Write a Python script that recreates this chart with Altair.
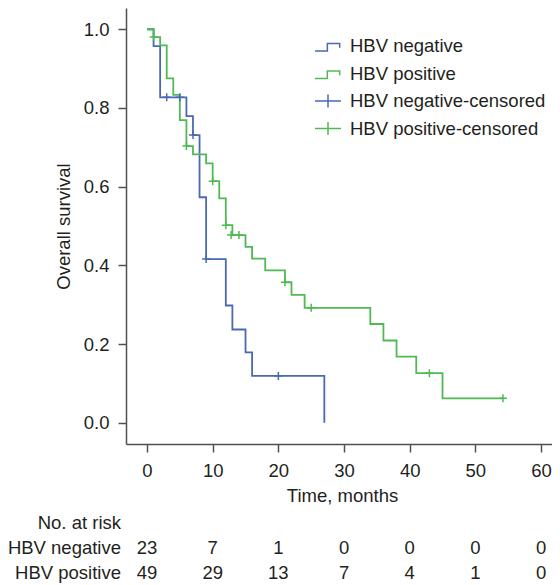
import altair as alt
import pandas as pd

FONT = "Liberation Sans"
TEXT = "#231f20"
AXIS = "#505050"
BLUE = "#4b68b2"
GREEN = "#4fba53"

# ---- Kaplan-Meier steps ----
neg_time = [0, 1, 2, 6, 7, 8, 9, 12, 13, 15, 16, 27]
neg_surv = [1.0, 0.957, 0.827, 0.779, 0.731, 0.573, 0.416, 0.298, 0.237, 0.179, 0.119, 0.0]
neg_cens_time = [3, 5, 7, 9, 20]
neg_cens_surv = [0.827, 0.827, 0.731, 0.416, 0.119]

pos_time = [0, 1, 2, 3, 4, 5, 6, 7, 9, 10, 11, 12, 13, 15, 16, 18, 21, 22, 24, 34, 36, 38, 41, 45, 54.2]
pos_surv = [1.0, 0.980, 0.959, 0.875, 0.833, 0.769, 0.703, 0.682, 0.659, 0.614, 0.570, 0.502,
            0.477, 0.447, 0.417, 0.387, 0.357, 0.325, 0.292, 0.251, 0.209, 0.168, 0.126, 0.062, 0.062]
pos_cens_time = [1, 6, 10, 12, 12.8, 14, 21, 25, 43, 54.2]
pos_cens_surv = [0.980, 0.703, 0.614, 0.502, 0.477, 0.477, 0.357, 0.292, 0.126, 0.062]

# ---- number at risk table ----
risk_time = [0, 10, 20, 30, 40, 50, 60]
risk_neg = [23, 7, 1, 0, 0, 0, 0]
risk_pos = [49, 29, 13, 7, 4, 1, 0]
risk_rows = ["No. at risk", "HBV negative", "HBV positive"]

legend_labels = ["HBV negative", "HBV positive", "HBV negative-censored", "HBV positive-censored"]
x_ticks = [0, 10, 20, 30, 40, 50, 60]
y_ticks = [0.0, 0.2, 0.4, 0.6, 0.8, 1.0]

STEP_PATH = "M-1,0.38H-0.05V-0.2H0.9V0.13"
CROSS_LEG = "M-1,0H1M0,-0.5V0.5"
CROSS = "M-1,0H1M0,-1V1"

X = alt.X("time:Q",
          scale=alt.Scale(domain=[-3.2, 61.67], nice=False, zero=False),
          axis=alt.Axis(values=x_ticks, title="Time, months", labelPadding=9,
                        titlePadding=7, titleX=216, format="d"))
Y = alt.Y("surv:Q",
          scale=alt.Scale(domain=[-0.054, 1.054], nice=False, zero=False),
          axis=alt.Axis(values=y_ticks, title="Overall survival", format=".1f",
                        labelPadding=9, titlePadding=10))

neg_df = pd.DataFrame({"time": neg_time, "surv": neg_surv})
pos_df = pd.DataFrame({"time": pos_time, "surv": pos_surv})
negc_df = pd.DataFrame({"time": neg_cens_time, "surv": neg_cens_surv})
posc_df = pd.DataFrame({"time": pos_cens_time, "surv": pos_cens_surv})

line_neg = alt.Chart(neg_df).mark_line(interpolate="step-after", color=BLUE, strokeWidth=1.8).encode(x=X, y=Y)
line_pos = alt.Chart(pos_df).mark_line(interpolate="step-after", color=GREEN, strokeWidth=1.8).encode(x=X, y=Y)
cens_neg = alt.Chart(negc_df).mark_point(shape=CROSS, size=64, color=BLUE, filled=False,
                                         strokeWidth=1.5, opacity=1).encode(x=X, y=Y)
cens_pos = alt.Chart(posc_df).mark_point(shape=CROSS, size=64, color=GREEN, filled=False,
                                         strokeWidth=1.5, opacity=1).encode(x=X, y=Y)

LEG = alt.Legend(title=None, orient="none", legendX=188, legendY=24, symbolSize=676,
                 symbolStrokeWidth=1.5, symbolOpacity=1, symbolFillColor="transparent",
                 labelFontSize=18.5, labelFont=FONT, labelColor=TEXT, labelOffset=8,
                 labelLimit=400, rowPadding=3.5, padding=0)
leg_df = pd.DataFrame({"label": legend_labels})
legend = alt.Chart(leg_df).mark_point(filled=False, opacity=0, strokeWidth=1.5).encode(
    x=alt.value(0), y=alt.value(0),
    color=alt.Color("label:N", scale=alt.Scale(domain=legend_labels, range=[BLUE, GREEN, BLUE, GREEN]),
                    legend=LEG),
    shape=alt.Shape("label:N", scale=alt.Scale(domain=legend_labels,
                                               range=[STEP_PATH, STEP_PATH, CROSS_LEG, CROSS_LEG]),
                    legend=LEG),
)

risk_df = pd.DataFrame({"time": risk_time, "neg": risk_neg, "pos": risk_pos})
ROW_HDR, ROW_NEG, ROW_POS = 515, 540, 565
txt = dict(font=FONT, fontSize=18.5, color=TEXT, baseline="middle")
t_neg = alt.Chart(risk_df).mark_text(align="center", **txt).encode(x=X, y=alt.value(ROW_NEG), text="neg:Q")
t_pos = alt.Chart(risk_df).mark_text(align="center", **txt).encode(x=X, y=alt.value(ROW_POS), text="pos:Q")

hdr_layers = []
for name, ypos in zip(risk_rows, [ROW_HDR, ROW_NEG, ROW_POS]):
    hdr_layers.append(
        alt.Chart(pd.DataFrame({"row": [name]})).mark_text(align="right", **txt).encode(
            x=alt.value(-5), y=alt.value(ypos), text="row:N")
    )

chart = alt.layer(line_neg, line_pos, cens_neg, cens_pos, legend, t_neg, t_pos, *hdr_layers).properties(
    width=426, height=436,
    padding={"left": 118, "top": 0, "right": 0, "bottom": 140},
    autosize=alt.AutoSizeParams(type="none"),
).configure_view(stroke=None).configure_axis(
    grid=False, domainColor=AXIS, domainWidth=1.5, tickColor=AXIS, tickWidth=1.5, tickSize=8,
    labelFont=FONT, labelFontSize=18.5, labelColor=TEXT,
    titleFont=FONT, titleFontSize=18.5, titleColor=TEXT, titleFontWeight="normal",
)

chart.save("out.html", embed_options={"renderer": "svg", "actions": False})
